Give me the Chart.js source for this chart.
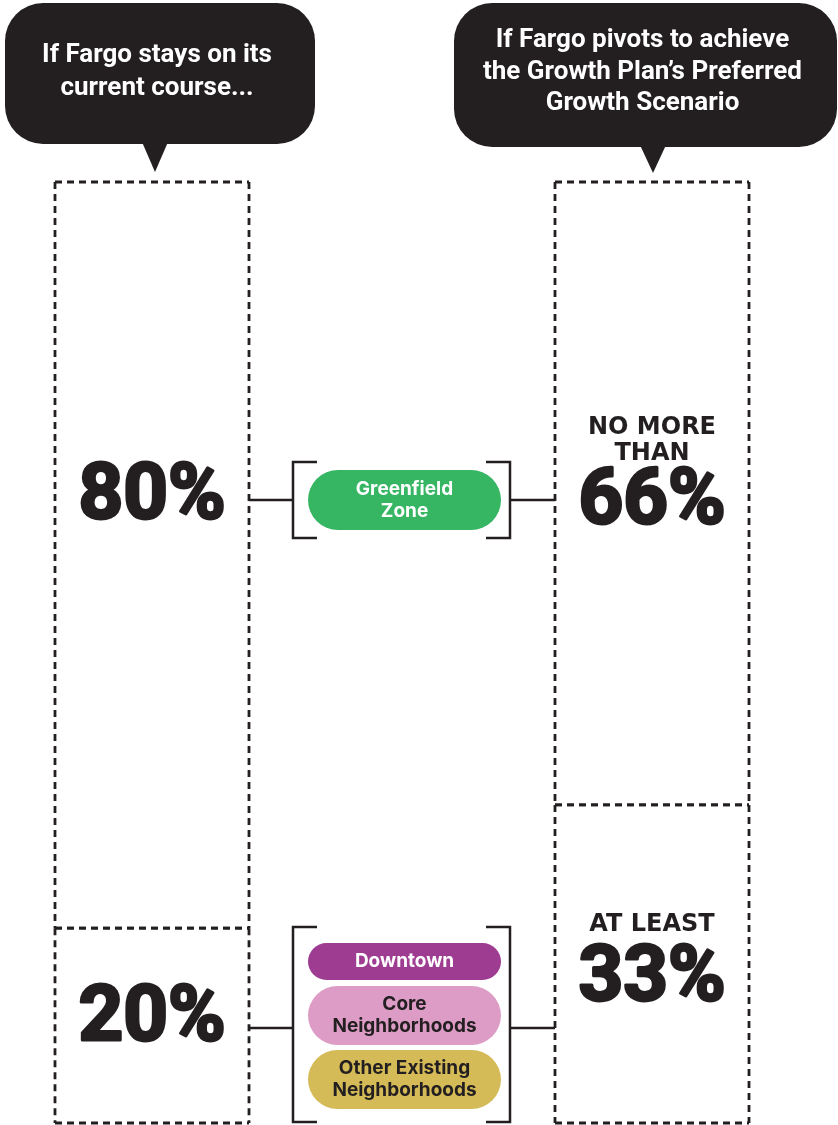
<!DOCTYPE html>
<html lang="en">
<head>
  <meta charset="UTF-8" />
  <title>Fargo Growth Scenarios</title>
  <style>
    body {
      margin: 0;
      background: #fff;
    }
    #wrap {
      width: 838px;
      height: 1125px;
      position: relative;
    }
  </style>
</head>
<body>
  <div id="wrap"><canvas id="grafico"></canvas></div>

  <script src="https://cdn.jsdelivr.net/npm/chart.js"></script>
  <script>
    // columnas: escenario actual, hueco para etiquetas, escenario preferido
    const columnas = ["Current course", "", "Preferred Growth Scenario"];
    const greenfield = [79.3, null, 66.2];
    const existentes = [20.7, null, 33.8];
    const etiquetasGreen = ["80%", "", "66%"];
    const etiquetasExist = ["20%", "", "33%"];
    const prefijosGreen = [[], [], ["NO MORE", "THAN"]];
    const prefijosExist = [[], [], ["AT LEAST"]];
    const titulos = [
      ["If Fargo stays on its", "current course..."],
      [],
      ["If Fargo pivots to achieve", "the Growth Plan\u2019s Preferred", "Growth Scenario"]
    ];
    const zonaGreen = [{ texto: ["Greenfield", "Zone"], color: "#36b563", tinta: "#fff" }];
    const zonasExist = [
      { texto: ["Downtown"], color: "#9e3c92", tinta: "#fff" },
      { texto: ["Core", "Neighborhoods"], color: "#dd9cc5", tinta: "#231f20" },
      { texto: ["Other Existing", "Neighborhoods"], color: "#d4bb57", tinta: "#231f20" }
    ];

    const TINTA = "#231f20";

    function redondeado(ctx, x, y, w, h, r) {
      ctx.beginPath();
      ctx.moveTo(x + r, y);
      ctx.lineTo(x + w - r, y);
      ctx.arcTo(x + w, y, x + w, y + r, r);
      ctx.lineTo(x + w, y + h - r);
      ctx.arcTo(x + w, y + h, x + w - r, y + h, r);
      ctx.lineTo(x + r, y + h);
      ctx.arcTo(x, y + h, x, y + h - r, r);
      ctx.lineTo(x, y + r);
      ctx.arcTo(x, y, x + r, y, r);
      ctx.closePath();
    }

    function linea(ctx, x1, y1, x2, y2) {
      ctx.beginPath();
      ctx.moveTo(x1, y1);
      ctx.lineTo(x2, y2);
      ctx.stroke();
    }

    // texto con trazo para darle mas peso
    function textoGrueso(ctx, t, x, y, grosor) {
      ctx.fillText(t, x, y);
      ctx.lineWidth = grosor;
      ctx.strokeText(t, x, y);
    }

    function burbuja(ctx, caja, cola, lineas, lineasY) {
      ctx.save();
      ctx.fillStyle = TINTA;
      redondeado(ctx, caja.x, caja.y, caja.w, caja.h, 38);
      ctx.fill();
      ctx.beginPath();
      ctx.moveTo(cola.x - 13, caja.y + caja.h - 2);
      ctx.lineTo(cola.x + 13, caja.y + caja.h - 2);
      ctx.lineTo(cola.x, cola.y);
      ctx.closePath();
      ctx.fill();
      ctx.fillStyle = "#fff";
      ctx.font = "700 26px Roboto";
      ctx.textAlign = "center";
      ctx.textBaseline = "middle";
      lineas.forEach((t, i) => ctx.fillText(t, caja.x + caja.w / 2 - 3, lineasY[i]));
      ctx.restore();
    }

    function corchetes(ctx, izq, der, arriba, abajo) {
      ctx.save();
      ctx.strokeStyle = TINTA;
      ctx.lineWidth = 2.5;
      ctx.beginPath();
      ctx.moveTo(izq + 24, arriba);
      ctx.lineTo(izq, arriba);
      ctx.lineTo(izq, abajo);
      ctx.lineTo(izq + 24, abajo);
      ctx.stroke();
      ctx.beginPath();
      ctx.moveTo(der - 24, arriba);
      ctx.lineTo(der, arriba);
      ctx.lineTo(der, abajo);
      ctx.lineTo(der - 24, abajo);
      ctx.stroke();
      ctx.restore();
    }

    function pastilla(ctx, zona, x, y, w, h) {
      ctx.save();
      ctx.fillStyle = zona.color;
      redondeado(ctx, x, y, w, h, h / 2);
      ctx.fill();
      ctx.fillStyle = zona.tinta;
      ctx.font = "700 19px Inter";
      ctx.textAlign = "center";
      ctx.textBaseline = "middle";
      const paso = 22;
      const y0 = y + h / 2 - (zona.texto.length - 1) * paso / 2;
      zona.texto.forEach((t, i) => ctx.fillText(t, x + w / 2, y0 + i * paso));
      ctx.restore();
    }

    const dibujoExtra = {
      id: "dibujoExtra",
      afterDatasetsDraw(chart) {
        const ctx = chart.ctx;
        const metaExist = chart.getDatasetMeta(0);
        const metaGreen = chart.getDatasetMeta(1);

        // barras con borde punteado
        ctx.save();
        ctx.strokeStyle = TINTA;
        ctx.lineWidth = 2.8;
        ctx.lineCap = "butt";
        ctx.setLineDash([7, 5]);
        [metaExist, metaGreen].forEach(meta => {
          meta.data.forEach((bar, i) => {
            if (existentes[i] === null) return;
            const p = bar.getProps(["x", "y", "base", "width"], true);
            const l = p.x - p.width / 2, r = p.x + p.width / 2;
            const t = Math.min(p.y, p.base), b = Math.max(p.y, p.base);
            linea(ctx, l, t, r, t);
            linea(ctx, l, b, r, b);
            linea(ctx, l, t, l, b);
            linea(ctx, r, t, r, b);
          });
        });
        ctx.restore();

        // porcentajes
        ctx.save();
        ctx.fillStyle = TINTA;
        ctx.strokeStyle = TINTA;
        ctx.lineJoin = "round";
        ctx.textAlign = "center";
        ctx.textBaseline = "middle";
        const numY = { green: [498, 0, 503], exist: [1020, 0, 980] };
        const preY = { green: [[], [], [428, 454]], exist: [[], [], [925]] };
        const grande = "bold 78px Roboto";
        const chico = "bold 24px 'DejaVu Sans'";
        metaGreen.data.forEach((bar, i) => {
          if (!etiquetasGreen[i]) return;
          ctx.font = grande;
          textoGrueso(ctx, etiquetasGreen[i], bar.x, numY.green[i], 3);
          ctx.font = chico;
          prefijosGreen[i].forEach((t, k) => ctx.fillText(t, bar.x, preY.green[i][k]));
        });
        metaExist.data.forEach((bar, i) => {
          if (!etiquetasExist[i]) return;
          ctx.font = grande;
          textoGrueso(ctx, etiquetasExist[i], bar.x, numY.exist[i], 3);
          ctx.font = chico;
          prefijosExist[i].forEach((t, k) => ctx.fillText(t, bar.x, preY.exist[i][k]));
        });
        ctx.restore();

        // burbujas de titulo
        burbuja(ctx, { x: 5, y: 3, w: 310, h: 141 }, { x: 155, y: 172 }, titulos[0], [55, 88]);
        burbuja(ctx, { x: 454, y: 3, w: 383, h: 144 }, { x: 653, y: 173 }, titulos[2], [40, 72, 103]);

        // conectores y corchetes
        const izqBar = metaGreen.data[0].x + metaGreen.data[0].width / 2;
        const derBar = metaGreen.data[2].x - metaGreen.data[2].width / 2;
        ctx.save();
        ctx.strokeStyle = TINTA;
        ctx.lineWidth = 2.5;
        linea(ctx, izqBar, 500, 293, 500);
        linea(ctx, 510, 500, derBar, 500);
        linea(ctx, izqBar, 1028, 293, 1028);
        linea(ctx, 510, 1028, derBar, 1028);
        ctx.restore();
        corchetes(ctx, 293, 510, 462, 538);
        corchetes(ctx, 293, 510, 927, 1122);

        pastilla(ctx, zonaGreen[0], 308, 470, 193, 60);
        pastilla(ctx, zonasExist[0], 308, 943, 193, 37);
        pastilla(ctx, zonasExist[1], 308, 986, 193, 59);
        pastilla(ctx, zonasExist[2], 308, 1050, 193, 59);
      }
    };

    new Chart(document.getElementById("grafico"), {
      type: "bar",
      data: {
        labels: columnas,
        datasets: [
          { label: "Existing areas", data: existentes, backgroundColor: "transparent", borderWidth: 0 },
          { label: "Greenfield Zone", data: greenfield, backgroundColor: "transparent", borderWidth: 0 }
        ]
      },
      options: {
        responsive: true,
        maintainAspectRatio: false,
        animation: false,
        layout: { padding: { top: 182, bottom: 2, left: 27, right: 61 } },
        datasets: { bar: { categoryPercentage: 1, barPercentage: 0.776 } },
        plugins: {
          legend: { display: false },
          tooltip: { enabled: false }
        },
        scales: {
          x: { stacked: true, display: false },
          y: { stacked: true, display: false, min: 0, max: 100 }
        }
      },
      plugins: [dibujoExtra]
    });
  </script>
</body>
</html>
